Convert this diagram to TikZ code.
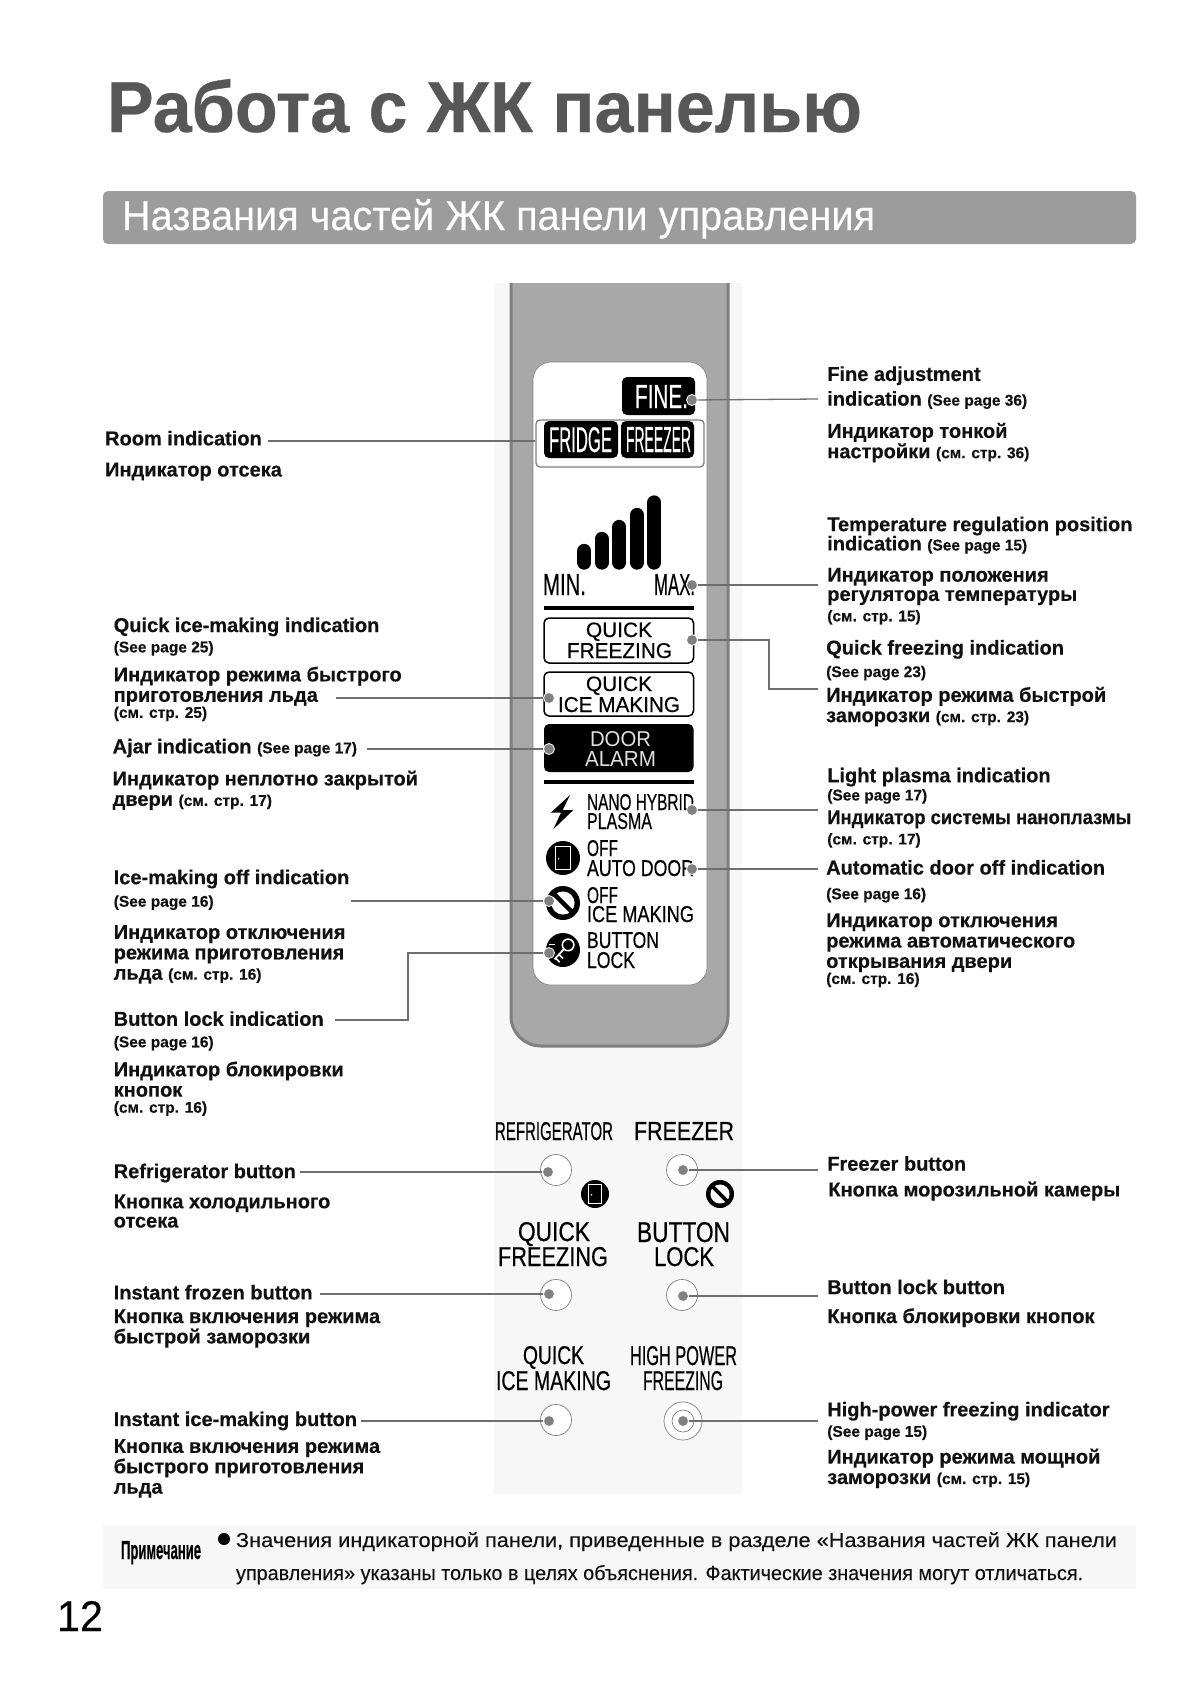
\documentclass[tikz,border=0pt]{standalone}
\usepackage{fontspec}
\usepackage{graphicx}
\setmainfont{Liberation Sans}[BoldFeatures={FakeBold=0.4}]
\newfontfamily\nf[FakeBold=0.5]{Liberation Sans}
\newfontfamily\hf[FakeBold=0.2]{Liberation Sans}
\definecolor{titlec}{HTML}{575757}
\definecolor{barc}{HTML}{9C9C9C}
\definecolor{backc}{HTML}{F7F7F7}
\definecolor{panelc}{HTML}{A8A8A8}
\definecolor{edgec}{HTML}{808080}
\definecolor{dotc}{HTML}{808080}
\definecolor{linec}{HTML}{6E6E6E}
\definecolor{inkc}{HTML}{111111}
\definecolor{lightw}{HTML}{E0E0E0}
\newcounter{lblc}
\tikzset{
  lbl/.style={anchor=base west,inner sep=0pt,outer sep=0pt,text=inkc,font=\fontsize{20}{20}\selectfont\bfseries},
  fitted/.style={anchor=base west,inner sep=0pt,outer sep=0pt,text=black},
  ldot/.style={circle,fill=dotc,draw=white,line width=0.8pt,minimum size=11pt,inner sep=0pt},
  conn/.style={draw=linec,line width=1.3pt},
  lcdbox/.style={draw=black,line width=1.5pt,rounded corners=5pt},
  blackbox/.style={fill=black,rounded corners=5pt},
  btn/.style={draw=edgec,line width=0.7pt,fill=white},
  sigbar/.style={line width=14.3pt,line cap=round,draw=black}
}
\newcommand{\sm}[1]{{\fontsize{15.5}{15.5}\selectfont #1}}
\newcommand{\Lb}[3]{\stepcounter{lblc}\node[lbl] (t\arabic{lblc}) at (#1,#2) {#3};}
% x, baseline, width, height, colour, text
\newcommand{\Ft}[6]{\stepcounter{lblc}\node[fitted,text=#5] (t\arabic{lblc}) at (#1,#2) {\resizebox{#3pt}{#4pt}{#6}};}
\newcommand{\doorico}[3]{\begin{scope}[shift={(#1,#2)}]
  \fill[black] (0,0) circle[radius=#3pt];
  \draw[white,line width=1.1pt,fill=black] (-0.45*#3,-0.66*#3) rectangle (0.45*#3,0.66*#3);
  \fill[white] (-0.25*#3,0.05*#3) circle[radius=0.8pt];
\end{scope}}
\newcommand{\noico}[3]{\begin{scope}[shift={(#1,#2)}]
  \fill[black] (0,0) circle[radius=#3pt];
  \fill[white] (0,0) circle[radius=0.68*#3 pt];
  \draw[black,line width=0.26*#3 pt] (-0.5*#3,-0.5*#3) -- (0.5*#3,0.5*#3);
\end{scope}}
\newcommand{\lockico}[3]{\begin{scope}[shift={(#1,#2)}]
  \fill[black] (0,0) circle[radius=#3pt];
  \draw[white,line width=1.6pt] (0.3*#3,-0.3*#3) circle[radius=0.34*#3 pt];
  \draw[white,line width=1.8pt] (0.06*#3,-0.06*#3) -- (-0.5*#3,0.55*#3);
  \draw[white,line width=1.6pt] (-0.25*#3,0.25*#3) -- (0,0.5*#3);
  \draw[white,line width=1.6pt] (-0.45*#3,0.45*#3) -- (-0.2*#3,0.72*#3);
  \draw[white,line width=1pt] (-0.8*#3,-0.35*#3) -- (-0.45*#3,-0.35*#3);
\end{scope}}
\begin{document}
\begin{tikzpicture}[x=1pt,y=-1pt]
\useasboundingbox (0,0) rectangle (1190,1682);
\fill[white] (0,0) rectangle (1190,1682);
% title and heading
\Ft{107}{132}{755}{53}{titlec}{\bfseries Работа с ЖК панелью}
\fill[barc,rounded corners=5pt] (103,191) rectangle (1136,244);
\Ft{122}{230}{753}{31}{white}{\hf Названия частей ЖК панели управления}
% panel
\fill[backc] (494,283) rectangle (742,1494);
\fill[panelc] [rounded corners=30pt] (510,283) -- (510,1047) -- (729,1047) -- (729,283);
\draw[edgec,line width=3pt] [rounded corners=30pt] (511,283) -- (511,1046) -- (728,1046) -- (728,283);
\fill[white,draw=edgec,line width=0.6pt,rounded corners=18pt] (533,362) rectangle (707,985);
% FINE
\fill[blackbox] (622,377) rectangle (695,415);
\Ft{635}{408}{53}{23}{white}{\nf FINE.}
\node[draw=edgec,line width=1.3pt,rounded corners=4pt,minimum width=168pt,minimum height=47pt,inner sep=0pt] (roomframe) at (620,443.5) {};
\fill[blackbox] (544,421) rectangle (618,458);
\fill[blackbox] (621,421) rectangle (694,458);
\Ft{549}{452}{63}{25}{white}{\nf FRIDGE}
\Ft{626}{452}{65}{25}{white}{\nf FREEZER}
% signal bars
\draw[sigbar] (584.3,562.5) -- (584.3,551);
\draw[sigbar] (601.7,562.5) -- (601.7,539);
\draw[sigbar] (619.3,562.5) -- (619.3,527);
\draw[sigbar] (637,562.5) -- (637,515);
\draw[sigbar] (654.3,562.5) -- (654.3,502.5);
\Ft{543}{595}{43}{21}{black}{\nf MIN.}
\Ft{654}{595}{41}{21}{black}{\nf MAX.}
\fill[black] (544,606.3) rectangle (694,609.7);
% mode boxes
\draw[lcdbox] (544,618) rectangle (693.5,663);
\Ft{586}{637}{66}{14.5}{black}{\nf QUICK}
\Ft{567}{658}{105}{15}{black}{\nf FREEZING}
\draw[lcdbox] (544,672) rectangle (693.5,716);
\Ft{586}{691}{66}{14.5}{black}{\nf QUICK}
\Ft{558}{712}{122}{15}{black}{\nf ICE MAKING}
\fill[blackbox] (544,724) rectangle (693.5,772);
\Ft{590}{746}{61}{15}{lightw}{DOOR}
\Ft{585}{766}{71}{15}{lightw}{ALARM}
\fill[black] (544,780.3) rectangle (694,783.7);
% bottom icons of the screen
\fill[black] (570,795) -- (550.7,812.7) -- (561,812.7) -- (553.3,829.3) -- (573.3,810) -- (562.7,810) -- cycle;
\Ft{587}{810}{107}{16}{black}{\nf NANO HYBRID}
\Ft{587}{829}{65}{16}{black}{\nf PLASMA}
\doorico{563}{858}{17}
\Ft{587}{856}{31}{16}{black}{\nf OFF}
\Ft{587}{876}{107}{16}{black}{\nf AUTO DOOR}
\noico{563}{903}{17}
\Ft{587}{903}{31}{16}{black}{\nf OFF}
\Ft{587}{922}{107}{16}{black}{\nf ICE MAKING}
\lockico{563}{950}{17}
\Ft{587}{948}{72}{16}{black}{\nf BUTTON}
\Ft{587}{968}{48}{16}{black}{\nf LOCK}
% buttons
\Ft{495}{1140}{118}{18}{black}{\nf REFRIGERATOR}
\Ft{634}{1140}{100}{18}{black}{\nf FREEZER}
\Ft{518}{1241}{72}{19}{black}{\nf QUICK}
\Ft{498}{1266}{110}{19}{black}{\nf FREEZING}
\Ft{637}{1242}{93}{20}{black}{\nf BUTTON}
\Ft{654}{1266}{60}{19}{black}{\nf LOCK}
\Ft{523}{1364}{61}{18}{black}{\nf QUICK}
\Ft{496}{1390}{115}{19}{black}{\nf ICE MAKING}
\Ft{630}{1365}{107}{19}{black}{\nf HIGH POWER}
\Ft{643}{1390}{80}{19}{black}{\nf FREEZING}
\draw[btn] (556,1170) circle[radius=15.5pt];
\draw[btn] (682,1170) circle[radius=15.5pt];
\draw[btn] (556,1295) circle[radius=15.5pt];
\draw[btn] (682,1295) circle[radius=15.5pt];
\draw[btn] (556,1420) circle[radius=15.5pt];
\draw[btn] (683,1421) circle[radius=19pt];
\draw[btn] (683,1421) circle[radius=11pt];
\doorico{595}{1194}{14}
\noico{720}{1194}{14}
% dots
\node[ldot] (dfine) at (692,400) {};
\node[ldot] (dmax) at (692,585) {};
\node[ldot] (dqf) at (692,640) {};
\node[ldot] (dqi) at (549,698) {};
\node[ldot] (dajar) at (549,749) {};
\node[ldot] (dplasma) at (692,810) {};
\node[ldot] (dauto) at (692,869) {};
\node[ldot] (doff) at (549,901) {};
\node[ldot] (dlock) at (549,953) {};
\node[ldot] (bref) at (548,1172) {};
\node[ldot] (bfrz) at (683,1170) {};
\node[ldot] (bqf) at (549,1294) {};
\node[ldot] (blk) at (683,1296) {};
\node[ldot] (bqi) at (549,1421) {};
\node[ldot] (bhp) at (683,1421) {};
% connector free ends
\coordinate (eroom) at (268,441);
\coordinate (efine) at (818,399);
\coordinate (emax) at (818,585);
\coordinate (eqfa) at (769,640);
\coordinate (eqfb) at (818,689);
\coordinate (eqi) at (336,698);
\coordinate (eajar) at (367,749);
\coordinate (eplasma) at (818,810);
\coordinate (eauto) at (818,869);
\coordinate (eoff) at (351,901);
\coordinate (elocka) at (408,953);
\coordinate (elockb) at (335,1020);
\coordinate (eref) at (300,1172);
\coordinate (efrz) at (818,1170);
\coordinate (eqf2) at (320,1294);
\coordinate (elk2) at (818,1296);
\coordinate (eqi2) at (361,1421);
\coordinate (ehp) at (818,1421);
% connectors
\draw[conn] (roomframe.west |- eroom) -- (eroom);
\draw[conn] (dfine) -- (efine);
\draw[conn] (dmax) -- (emax);
\draw[conn] (dqf) -- (eqfa) |- (eqfb);
\draw[conn] (dqi) -- (eqi);
\draw[conn] (dajar) -- (eajar);
\draw[conn] (dplasma) -- (eplasma);
\draw[conn] (dauto) -- (eauto);
\draw[conn] (doff) -- (eoff);
\draw[conn] (dlock) -- (elocka) |- (elockb);
\draw[conn] (bref) -- (eref);
\draw[conn] (bfrz) -- (efrz);
\draw[conn] (bqf) -- (eqf2);
\draw[conn] (blk) -- (elk2);
\draw[conn] (bqi) -- (eqi2);
\draw[conn] (bhp) -- (ehp);
% labels, given in the coordinates of the shrunken view
\begin{scope}[x=1.073pt,y=-1.073pt]
\Lb{98}{415}{Room indication}
\Lb{98}{444}{Индикатор отсека}
\Lb{106}{589}{Quick ice-making indication}
\Lb{106}{608}{\sm{(See page 25)}}
\Lb{106}{635}{Индикатор режима быстрого}
\Lb{106}{654}{приготовления льда}
\Lb{106}{669}{\sm{(см. стр. 25)}}
\Lb{105}{702}{Ajar indication \sm{(See page 17)}}
\Lb{105}{732}{Индикатор неплотно закрытой}
\Lb{105}{751}{двери \sm{(см. стр. 17)}}
\Lb{106}{824}{Ice-making off indication}
\Lb{106}{845}{\sm{(See page 16)}}
\Lb{106}{875}{Индикатор отключения}
\Lb{106}{894}{режима приготовления}
\Lb{106}{913}{льда \sm{(см. стр. 16)}}
\Lb{106}{956}{Button lock indication}
\Lb{106}{976}{\sm{(See page 16)}}
\Lb{106}{1003}{Индикатор блокировки}
\Lb{106}{1022}{кнопок}
\Lb{106}{1037}{\sm{(см. стр. 16)}}
\Lb{106}{1098}{Refrigerator button}
\Lb{106}{1126}{Кнопка холодильного}
\Lb{106}{1144}{отсека}
\Lb{106}{1211}{Instant frozen button}
\Lb{106}{1233}{Кнопка включения режима}
\Lb{106}{1252}{быстрой заморозки}
\Lb{106}{1329}{Instant ice-making button}
\Lb{106}{1354}{Кнопка включения режима}
\Lb{106}{1373}{быстрого приготовления}
\Lb{106}{1392}{льда}
\Lb{771}{355}{Fine adjustment}
\Lb{771}{378}{indication \sm{(See page 36)}}
\Lb{771}{408}{Индикатор тонкой}
\Lb{771}{427}{настройки \sm{(см. стр. 36)}}
\Lb{771}{495}{Temperature regulation position}
\Lb{771}{513}{indication \sm{(See page 15)}}
\Lb{771}{542}{Индикатор положения}
\Lb{771}{560}{регулятора температуры}
\Lb{771}{579}{\sm{(см. стр. 15)}}
\Lb{770}{610}{Quick freezing indication}
\Lb{770}{631}{\sm{(See page 23)}}
\Lb{770}{654}{Индикатор режима быстрой}
\Lb{770}{673}{заморозки \sm{(см. стр. 23)}}
\Lb{771}{729}{Light plasma indication}
\Lb{771}{746}{\sm{(See page 17)}}
\Lb{771}{768}{\scalebox{0.922}[1]{Индикатор системы наноплазмы}}
\Lb{771}{787}{\sm{(см. стр. 17)}}
\Lb{770}{815}{Automatic door off indication}
\Lb{770}{838}{\sm{(See page 16)}}
\Lb{770}{864}{Индикатор отключения}
\Lb{770}{883}{режима автоматического}
\Lb{770}{902}{открывания двери}
\Lb{770}{917}{\sm{(см. стр. 16)}}
\Lb{771}{1091}{Freezer button}
\Lb{772}{1115}{Кнопка морозильной камеры}
\Lb{771}{1206}{Button lock button}
\Lb{771}{1233}{Кнопка блокировки кнопок}
\Lb{771}{1320}{High-power freezing indicator}
\Lb{771}{1339}{\sm{(See page 15)}}
\Lb{771}{1364}{Индикатор режима мощной}
\Lb{771}{1383}{заморозки \sm{(см. стр. 15)}}
\end{scope}
% note
\fill[backc] (103,1525) rectangle (1136,1589);
\Ft{121}{1559}{80}{18}{black}{\bfseries Примечание}
\fill[black] (224,1539) circle[radius=6pt];
\Ft{236}{1547}{881}{15}{inkc}{\hf Значения индикаторной панели, приведенные в разделе «Названия частей ЖК панели}
\Ft{236}{1580}{847}{15}{inkc}{\hf управления» указаны только в целях объяснения. Фактические значения могут отличаться.}
\Ft{57}{1631}{46}{30}{black}{\hf 12}
\end{tikzpicture}
\end{document}
